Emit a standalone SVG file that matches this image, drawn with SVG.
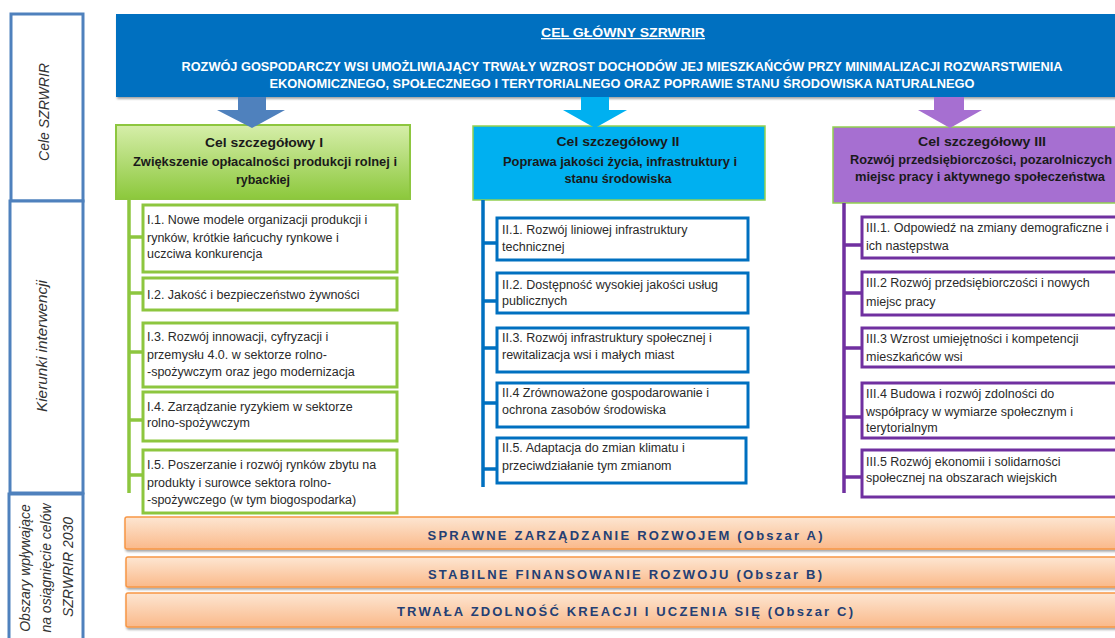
<svg xmlns="http://www.w3.org/2000/svg" width="1115" height="638" viewBox="0 0 1115 638">
<defs>
<linearGradient id="gGreen" x1="0" y1="0" x2="0" y2="1"><stop offset="0" stop-color="#d6eeaa"/><stop offset="1" stop-color="#8cc83c"/></linearGradient>
<linearGradient id="gOrange" x1="0" y1="0" x2="0" y2="1"><stop offset="0" stop-color="#fde6d2"/><stop offset="1" stop-color="#fab98a"/></linearGradient>
<filter id="sh" x="-5%" y="-20%" width="110%" height="150%"><feDropShadow dx="1" dy="2" stdDeviation="1.2" flood-color="#000" flood-opacity="0.35"/></filter>
<style>
.side{fill:#fff;stroke:#4f81bd;stroke-width:3}
.sideT{font-family:"Liberation Sans",Arial,sans-serif;font-style:italic;font-size:14px;fill:#333;text-anchor:middle;dominant-baseline:central}
.bannerT{font-family:"Liberation Sans",Arial,sans-serif;font-weight:bold;font-size:13px;fill:#fff;text-anchor:middle}
.hT{font-family:"Liberation Sans",Arial,sans-serif;font-weight:bold;font-size:12.5px;fill:#1a1a1a;text-anchor:middle}
.it{font-family:"Liberation Sans",Arial,sans-serif;font-size:12.5px;fill:#2a2a2a}
.bG{fill:#fff;stroke:#8dc63f;stroke-width:3}
.bB{fill:#fff;stroke:#0070c0;stroke-width:3}
.bP{fill:#fff;stroke:#7030a0;stroke-width:3}
.lG{stroke:#8dc63f;stroke-width:3.5;fill:none}
.lB{stroke:#0070c0;stroke-width:3.5;fill:none}
.lP{stroke:#7030a0;stroke-width:3.5;fill:none}
.bar{fill:url(#gOrange);stroke:#f79646;stroke-width:1.5}
.barT{font-family:"Liberation Sans",Arial,sans-serif;font-weight:bold;font-size:13px;fill:#243f74;text-anchor:middle;dominant-baseline:central}
</style>
</defs>
<rect width="1115" height="638" fill="#fff"/>

<g id="sidebar">
<rect class="side" x="11" y="14" width="72" height="187"/>
<text class="sideT" transform="translate(44,112) rotate(-90)" textLength="98" lengthAdjust="spacingAndGlyphs">Cele SZRWRIR</text>
<rect class="side" x="10" y="201" width="73" height="292"/>
<text class="sideT" transform="translate(42,346) rotate(-90)" textLength="132" lengthAdjust="spacingAndGlyphs">Kierunki interwencji</text>
<rect class="side" x="9" y="494" width="74" height="160"/>
<text class="sideT" transform="translate(25,568) rotate(-90)">Obszary wpływające</text>
<text class="sideT" transform="translate(46,568) rotate(-90)">na osiągnięcie celów</text>
<text class="sideT" transform="translate(68,567) rotate(-90)">SZRWRIR 2030</text>
</g>

<g id="banner">
<rect x="116" y="14" width="1010" height="83" fill="#0070c0" filter="url(#sh)"/>
<text class="bannerT" x="623" y="37" textLength="164" lengthAdjust="spacingAndGlyphs" text-decoration="underline">CEL GŁÓWNY SZRWRIR</text>
<text class="bannerT" x="622" y="71" textLength="881" lengthAdjust="spacingAndGlyphs">ROZWÓJ GOSPODARCZY WSI UMOŻLIWIAJĄCY TRWAŁY WZROST DOCHODÓW JEJ MIESZKAŃCÓW PRZY MINIMALIZACJI ROZWARSTWIENIA</text>
<text class="bannerT" x="622" y="88" textLength="705" lengthAdjust="spacingAndGlyphs">EKONOMICZNEGO, SPOŁECZNEGO I TERYTORIALNEGO ORAZ POPRAWIE STANU ŚRODOWISKA NATURALNEGO</text>
</g>

<g id="goal1">
<rect x="116" y="125" width="294" height="74" fill="url(#gGreen)" stroke="#8dc63f" stroke-width="2"/>
<text class="hT" x="264" y="147" textLength="118" lengthAdjust="spacingAndGlyphs">Cel szczegółowy I</text>
<text class="hT" x="265" y="166" textLength="264" lengthAdjust="spacingAndGlyphs">Zwiększenie opłacalności produkcji rolnej i</text>
<text class="hT" x="263" y="184" textLength="54" lengthAdjust="spacingAndGlyphs">rybackiej</text>
</g>
<g id="goal2">
<rect x="473" y="126" width="292" height="74" fill="#00b0f0" stroke="#92d050" stroke-width="1.5"/>
<text class="hT" x="618" y="146" textLength="123" lengthAdjust="spacingAndGlyphs">Cel szczegółowy II</text>
<text class="hT" x="620" y="166" textLength="234" lengthAdjust="spacingAndGlyphs">Poprawa jakości życia, infrastruktury i</text>
<text class="hT" x="618" y="183" textLength="107" lengthAdjust="spacingAndGlyphs">stanu środowiska</text>
</g>
<g id="goal3">
<rect x="833" y="127" width="290" height="76" fill="#a66fd1" stroke="#92d050" stroke-width="1.5"/>
<text class="hT" x="982" y="146" textLength="128" lengthAdjust="spacingAndGlyphs">Cel szczegółowy III</text>
<text class="hT" x="981" y="164" textLength="262" lengthAdjust="spacingAndGlyphs">Rozwój przedsiębiorczości, pozarolniczych</text>
<text class="hT" x="980" y="181" textLength="250" lengthAdjust="spacingAndGlyphs">miejsc pracy i aktywnego społeczeństwa</text>
</g>

<g id="arrows">
<polygon points="238,97 266,97 266,110 285,110 252,128 217,110 238,110" fill="#4f81bd"/>
<polygon points="581,97 609,97 609,110 627,110 595,128 563,110 581,110" fill="#00b0f0"/>
<polygon points="934,97 964,97 964,110 982,110 950,128 918,110 934,110" fill="#a66fd1"/>
</g>

<g id="connectors">
<path class="lG" d="M129,199 V493 M129,237 H143 M129,293 H143 M129,352 H143 M129,420 H143 M129,475 H143"/>
<path class="lB" d="M483,200 V487 M483,243 H497 M483,301 H497 M483,348 H497 M483,403 H497 M483,469 H497"/>
<path class="lP" d="M844,203 V493 M844,245 H862 M844,293 H862 M844,348 H862 M844,417 H862 M844,477 H862"/>
</g>

<g id="I1"><rect class="bG" x="143" y="205" width="254" height="67"/>
<text class="it" x="147" y="224">I.1. Nowe modele organizacji produkcji i</text>
<text class="it" x="147" y="242">rynków, krótkie łańcuchy rynkowe i</text>
<text class="it" x="147" y="258">uczciwa konkurencja</text></g>
<g id="I2"><rect class="bG" x="143" y="278" width="254" height="32"/>
<text class="it" x="147" y="299">I.2. Jakość i bezpieczeństwo żywności</text></g>
<g id="I3"><rect class="bG" x="143" y="323" width="254" height="64"/>
<text class="it" x="147" y="341">I.3. Rozwój innowacji, cyfryzacji i</text>
<text class="it" x="147" y="359">przemysłu 4.0. w sektorze rolno-</text>
<text class="it" x="147" y="376">-spożywczym oraz jego modernizacja</text></g>
<g id="I4"><rect class="bG" x="143" y="392" width="254" height="49"/>
<text class="it" x="147" y="411">I.4. Zarządzanie ryzykiem w sektorze</text>
<text class="it" x="147" y="427">rolno-spożywczym</text></g>
<g id="I5"><rect class="bG" x="143" y="450" width="254" height="63"/>
<text class="it" x="147" y="469">I.5. Poszerzanie i rozwój rynków zbytu na</text>
<text class="it" x="147" y="487">produkty i surowce sektora rolno-</text>
<text class="it" x="147" y="504">-spożywczego (w tym biogospodarka)</text></g>

<g id="II1"><rect class="bB" x="497" y="218" width="251" height="42"/>
<text class="it" x="502" y="234">II.1. Rozwój liniowej infrastruktury</text>
<text class="it" x="502" y="251">technicznej</text></g>
<g id="II2"><rect class="bB" x="497" y="273" width="251" height="40"/>
<text class="it" x="502" y="289">II.2. Dostępność wysokiej jakości usług</text>
<text class="it" x="502" y="305">publicznych</text></g>
<g id="II3"><rect class="bB" x="497" y="328" width="251" height="44"/>
<text class="it" x="502" y="342">II.3. Rozwój infrastruktury społecznej i</text>
<text class="it" x="502" y="359">rewitalizacja wsi i małych miast</text></g>
<g id="II4"><rect class="bB" x="497" y="383" width="251" height="44"/>
<text class="it" x="502" y="397">II.4 Zrównoważone gospodarowanie i</text>
<text class="it" x="502" y="414">ochrona zasobów środowiska</text></g>
<g id="II5"><rect class="bB" x="497" y="438" width="249" height="45"/>
<text class="it" x="502" y="452">II.5. Adaptacja do zmian klimatu i</text>
<text class="it" x="502" y="470">przeciwdziałanie tym zmianom</text></g>

<g id="III1"><rect class="bP" x="862" y="217" width="260" height="41"/>
<text class="it" x="866" y="232">III.1. Odpowiedź na zmiany demograficzne i</text>
<text class="it" x="866" y="250">ich następstwa</text></g>
<g id="III2"><rect class="bP" x="862" y="272" width="260" height="43"/>
<text class="it" x="866" y="287">III.2 Rozwój przedsiębiorczości i nowych</text>
<text class="it" x="866" y="306">miejsc pracy</text></g>
<g id="III3"><rect class="bP" x="862" y="328" width="260" height="39"/>
<text class="it" x="866" y="343">III.3 Wzrost umiejętności i kompetencji</text>
<text class="it" x="866" y="361">mieszkańców wsi</text></g>
<g id="III4"><rect class="bP" x="862" y="383" width="260" height="55"/>
<text class="it" x="866" y="398">III.4 Budowa i rozwój zdolności do</text>
<text class="it" x="866" y="416">współpracy w wymiarze społecznym i</text>
<text class="it" x="866" y="432">terytorialnym</text></g>
<g id="III5"><rect class="bP" x="862" y="450" width="260" height="47"/>
<text class="it" x="866" y="466">III.5 Rozwój ekonomii i solidarności</text>
<text class="it" x="866" y="482">społecznej na obszarach wiejskich</text></g>

<g id="areaA"><rect class="bar" x="125" y="517" width="1000" height="32" rx="2" filter="url(#sh)"/>
<text class="barT" x="625" y="535" textLength="395" lengthAdjust="spacing">SPRAWNE ZARZĄDZANIE ROZWOJEM (Obszar A)</text></g>
<g id="areaB"><rect class="bar" x="126" y="557" width="1000" height="30" rx="2" filter="url(#sh)"/>
<text class="barT" x="625" y="574" textLength="394" lengthAdjust="spacing">STABILNE FINANSOWANIE ROZWOJU (Obszar B)</text></g>
<g id="areaC"><rect class="bar" x="126" y="593" width="1000" height="34" rx="2" filter="url(#sh)"/>
<text class="barT" x="625" y="611" textLength="456" lengthAdjust="spacing">TRWAŁA ZDOLNOŚĆ KREACJI I UCZENIA SIĘ (Obszar C)</text></g>
</svg>
